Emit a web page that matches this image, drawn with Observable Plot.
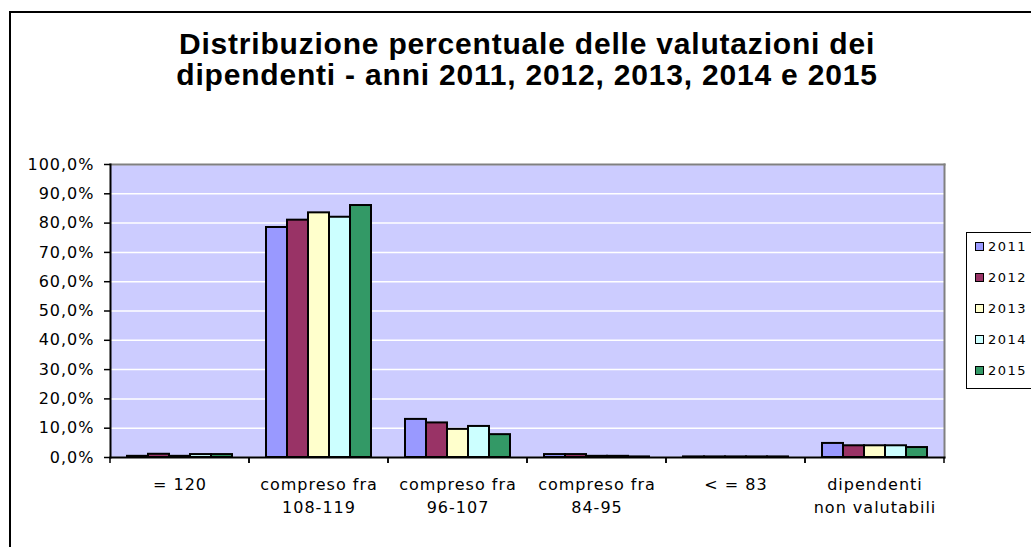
<!DOCTYPE html>
<html>
<head>
<meta charset="utf-8">
<script src="https://cdn.jsdelivr.net/npm/d3@7"></script>
<script src="https://cdn.jsdelivr.net/npm/@observablehq/plot@0.6"></script>
<style>
  html, body { margin: 0; padding: 0; background: #fff; }
  #wrap { position: relative; width: 1031px; height: 547px; overflow: hidden; background: #fff; }
  #border { position: absolute; left: 9px; top: 11px; width: 1100px; height: 600px; border-left: 2px solid #000; border-top: 2px solid #000; }
  #title { position: absolute; left: 0; top: 28px; width: 1054px; text-align: center; font-family: "Liberation Sans", Arial, sans-serif; font-weight: bold; font-size: 30px; line-height: 31px; letter-spacing: 0.8px; color: #000; }
  #chart { position: absolute; left: 0; top: 140px; }
  #legend { position: absolute; left: 966px; top: 232px; width: 90px; height: 155px; border: 1px solid #000; font-family: "DejaVu Sans", sans-serif; font-size: 13px; letter-spacing: 1.5px; }
  .row { position: absolute; left: 8px; height: 20px; display: flex; align-items: center; }
  .sw { width: 7px; height: 7px; border: 1px solid #000; margin-right: 4px; }
</style>
</head>
<body>
<div id="wrap">
  <div id="border"></div>
  <div id="title"></div>
  <div id="chart"></div>
  <div id="legend"></div>
</div>
<script>
const titleLines = ["Distribuzione percentuale delle valutazioni dei", "dipendenti - anni 2011, 2012, 2013, 2014 e 2015"];
const categories = ["= 120", "compreso fra\n108-119", "compreso fra\n96-107", "compreso fra\n84-95", "< = 83", "dipendenti\nnon valutabili"];
const years = ["2011", "2012", "2013", "2014", "2015"];
const colors = ["#9999FF", "#993366", "#FFFFCC", "#CCFFFF", "#339966"];
const v2011 = [0.4, 78.5, 13.0, 1.0, 0.2, 4.8];
const v2012 = [1.1, 81.0, 11.8, 1.0, 0.2, 4.0];
const v2013 = [0.4, 83.5, 9.6, 0.4, 0.2, 4.0];
const v2014 = [1.0, 82.0, 10.6, 0.4, 0.2, 4.0];
const v2015 = [1.0, 86.0, 7.8, 0.2, 0.2, 3.4];
const yTicks = [0, 0.1, 0.2, 0.3, 0.4, 0.5, 0.6, 0.7, 0.8, 0.9, 1.0];

const series = [v2011, v2012, v2013, v2014, v2015];
const data = categories.flatMap((c, i) => years.map((y, j) => ({cat: c, year: y, value: series[j][i] / 100})));

document.getElementById("title").innerHTML = titleLines.join("<br>");

const fmt = d => (d * 100).toFixed(1).replace(".", ",") + "%";

const boundaryTicks = (index, scales, values, dim) => {
  const g = d3.create("svg:g");
  const y0 = dim.height - dim.marginBottom;
  for (const x of [dim.marginLeft, dim.width - dim.marginRight]) {
    g.append("line").attr("x1", x).attr("x2", x).attr("y1", y0).attr("y2", y0 + 6)
      .attr("stroke", "#000").attr("stroke-width", 1.5);
  }
  return g.node();
};

const chart = Plot.plot({
  width: 1031,
  height: 407,
  marginTop: 24,
  marginBottom: 90,
  marginLeft: 110,
  marginRight: 87,
  style: {fontFamily: "DejaVu Sans, sans-serif", fontSize: "16px", color: "#000", background: "transparent", overflow: "visible", letterSpacing: "1px"},
  fx: {domain: categories, padding: 0, label: null},
  x: {domain: years, paddingInner: 0, paddingOuter: 0.73, axis: null},
  y: {domain: [0, 1], label: null},
  color: {domain: years, range: colors},
  marks: [
    Plot.frame({facet: "super", fill: "#CCCCFF", stroke: null}),
    Plot.gridY(yTicks, {stroke: "#fff", strokeOpacity: 1, strokeWidth: 1.5}),
    Plot.frame({facet: "super", anchor: "top", stroke: "#808080", strokeWidth: 2}),
    Plot.frame({facet: "super", anchor: "right", stroke: "#808080", strokeWidth: 2}),
    Plot.barY(data, {fx: "cat", x: "year", y: "value", fill: "year", stroke: "#000", strokeWidth: 2}),
    Plot.frame({facet: "super", anchor: "left", stroke: "#000", strokeWidth: 2}),
    Plot.frame({facet: "super", anchor: "bottom", stroke: "#000", strokeWidth: 2}),
    Plot.axisY({ticks: yTicks, tickFormat: fmt, tickSize: 6, tickPadding: 10, stroke: "#000", strokeWidth: 1.5, label: null}),
    Plot.axisFx({anchor: "bottom", tickSize: 0, tickPadding: 17, lineHeight: 1.4, label: null}),
    boundaryTicks
  ]
});
document.getElementById("chart").appendChild(chart);

const legend = document.getElementById("legend");
years.forEach((y, i) => {
  const row = document.createElement("div");
  row.className = "row";
  row.style.top = (3 + i * 31) + "px";
  const sw = document.createElement("div");
  sw.className = "sw";
  sw.style.background = colors[i];
  const t = document.createElement("span");
  t.textContent = y;
  row.appendChild(sw);
  row.appendChild(t);
  legend.appendChild(row);
});
</script>
</body>
</html>
